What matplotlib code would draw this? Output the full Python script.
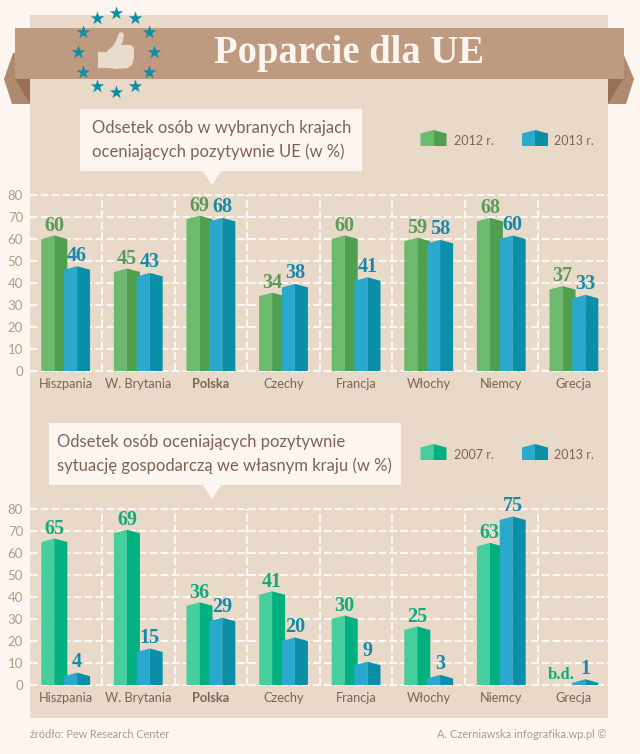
"""
Poparcie dla UE - infographic with two grouped bar charts.
"""
import numpy as np
import matplotlib
matplotlib.use("Agg")
import matplotlib.pyplot as plt
from matplotlib.patches import Polygon, Rectangle

plt.rcParams["font.family"] = ["Lato", "DejaVu Sans"]

countries = ["Hiszpania", "W. Brytania", "Polska", "Czechy", "Francja", "Włochy", "Niemcy", "Grecja"]
support_2012 = [60, 45, 69, 34, 60, 59, 68, 37]
support_2013 = [46, 43, 68, 38, 41, 58, 60, 33]
economy_2007 = [65, 69, 36, 41, 30, 25, 63, None]
economy_2013 = [4, 15, 29, 20, 9, 3, 75, 1]
y_ticks = [0, 10, 20, 30, 40, 50, 60, 70, 80]

BG = "#fdf5f0"
PANEL = "#e8d9c9"
RIBBON = "#bd9a80"
TAIL = "#ae8a70"
FOLD = "#996f58"
TEXT = "#7f6357"
TICK = "#b89b82"
STAR = "#0d8ea6"

GREEN = ("#6cba6e", "#4f9f50", "#5a9a5a")
BLUE = ("#2aa9cc", "#0b8fa9", "#1789a8")
TEAL = ("#45cf9f", "#00b07f", "#12ab7a")

W, H = 640, 754
SPACING = 72.6
BAR_W = 26 / SPACING
OFFSET = 11.4 / SPACING
GABLE = 1.6


def draw_bar(ax, x, value, colors):
    # left face, right face, both with a small gable on top
    left, right = x - BAR_W / 2, x + BAR_W / 2
    ax.fill([left, x, x, left], [0, 0, value + GABLE, value], color=colors[0], lw=0, zorder=3)
    ax.fill([x, right, right, x], [0, 0, value, value + GABLE], color=colors[1], lw=0, zorder=3)


def draw_chart(top_px, first, second, first_colors, second_colors):
    bottom_px = top_px + 176
    ax = fig.add_axes([30 / W, 1 - bottom_px / H, 578 / W, 176 / H], zorder=2)
    ax.patch.set_alpha(0)
    x = np.arange(len(countries))
    ax.set_xlim((30 - 65.7) / SPACING, (608 - 65.7) / SPACING)
    ax.set_ylim(0, 80)
    for s in ax.spines.values():
        s.set_visible(False)

    dash = dict(color="#fdf8f4", lw=1.4, linestyle=(0, (4, 1.6)), zorder=1, clip_on=False)
    for t in y_ticks:
        ax.axhline(t, **dash)
    for sep in x[:-1] + 0.5:
        ax.axvline(sep, **dash)

    for i in x:
        if first[i] is not None:
            draw_bar(ax, i - OFFSET, first[i], first_colors)
            ax.text(i - OFFSET, first[i] + 6.0, str(first[i]), ha="center", va="center",
                    family="Liberation Serif", weight="bold", fontsize=14.5, color=first_colors[2], zorder=4)
        else:
            ax.text(i - OFFSET - 0.02, 4.7, "b.d.", ha="center", va="center",
                    family="Liberation Serif", weight="bold", fontsize=12, color=first_colors[2], zorder=4)
        draw_bar(ax, i + OFFSET, second[i], second_colors)
        ax.text(i + OFFSET, second[i] + 6.4, str(second[i]), ha="center", va="center",
                family="Liberation Serif", weight="bold", fontsize=14.5, color=second_colors[2], zorder=4)

    ax.set_yticks(y_ticks)
    ax.set_xticks(x)
    ax.set_xticklabels(countries)
    ax.tick_params(axis="y", length=0, pad=5, labelsize=9.5, labelcolor=TICK)
    ax.tick_params(axis="x", length=0, pad=5, labelsize=9.2, labelcolor=TEXT)
    ax.get_xticklabels()[2].set_fontweight("bold")
    return ax


def legend_key(x, y, colors):
    mid = x + 13
    bg.add_patch(Polygon([(x, y + 16), (mid, y + 16), (mid, y), (x, y + 3.5)], color=colors[0], lw=0))
    bg.add_patch(Polygon([(mid, y + 16), (x + 26, y + 16), (x + 26, y + 3.5), (mid, y)], color=colors[1], lw=0))


def callout(x0, y0, x1, y1, tip_x, lines, text_x):
    bg.add_patch(Rectangle((x0, y0), x1 - x0, y1 - y0, color=BG, lw=0))
    bg.add_patch(Polygon([(tip_x - 9, y1), (tip_x + 9, y1), (tip_x, y1 + 14)], color=BG, lw=0))
    for k, line in enumerate(lines):
        bg.text(text_x, y0 + 19 + 23.5 * k, line, color=TEXT, fontsize=12.0, va="center", ha="left")


fig = plt.figure(figsize=(W / 100, H / 100), dpi=100, facecolor=BG)

# page furniture, drawn in pixel coordinates
bg = fig.add_axes([0, 0, 1, 1], zorder=0)
bg.set_xlim(0, W)
bg.set_ylim(H, 0)
bg.axis("off")

bg.add_patch(Rectangle((30, 15), 578, 703, color=PANEL, lw=0))
bg.add_patch(Polygon([(13, 53), (4, 79), (12, 104), (30, 104), (30, 53)], color=TAIL, lw=0))
bg.add_patch(Polygon([(15, 79), (30, 79), (30, 104)], color=FOLD, lw=0))
bg.add_patch(Polygon([(623, 53), (634, 79), (626, 104), (608, 104), (608, 53)], color=TAIL, lw=0))
bg.add_patch(Polygon([(608, 79), (623, 79), (608, 104)], color=FOLD, lw=0))
bg.add_patch(Rectangle((15, 28), 609, 51, color=RIBBON, lw=0))

bg.text(349, 53, "Poparcie dla UE", family="Liberation Serif", weight="bold", fontsize=27.8,
        color="#fdf5ee", ha="center", va="center")

# thumb up and the ring of stars
thumb = [(98, 52), (107, 52), (108, 50), (113, 46), (116, 41), (119, 33), (122, 32), (124, 35),
         (123, 41), (121, 45), (131, 45), (134, 48), (134, 58), (132, 65), (128, 68), (116, 69),
         (108, 68), (98, 68)]
bg.add_patch(Polygon(thumb, color="#eadccd", lw=0))
angles = np.deg2rad(np.arange(0, 360, 30))
bg.scatter(116 + 38 * np.cos(angles), 52 + 39.5 * np.sin(angles), marker="*", s=105, color=STAR,
           linewidths=0, zorder=3)

callout(80, 109, 362, 171, 212, ["Odsetek osób w wybranych krajach", "oceniających pozytywnie UE (w %)"], 92)
callout(49, 423, 401, 485, 212, ["Odsetek osób oceniających pozytywnie", "sytuację gospodarczą we własnym kraju (w %)"], 57)

legend_key(420.5, 130, GREEN)
legend_key(522, 130, BLUE)
bg.text(454, 141, "2012 r.", color=TEXT, fontsize=9, va="center")
bg.text(554, 141, "2013 r.", color=TEXT, fontsize=9, va="center")
legend_key(420.5, 444, TEAL)
legend_key(522, 444, BLUE)
bg.text(454, 455, "2007 r.", color=TEXT, fontsize=9, va="center")
bg.text(554, 455, "2013 r.", color=TEXT, fontsize=9, va="center")

bg.text(30, 735, "źródło: Pew Research Center", color="#b09a8a", fontsize=7.8, va="center")
bg.text(607, 735, "A. Czerniawska infografika.wp.pl ©", color="#b09a8a", fontsize=7.9, va="center", ha="right")

draw_chart(195, support_2012, support_2013, GREEN, BLUE)
draw_chart(509, economy_2007, economy_2013, TEAL, BLUE)

fig.savefig("out.png", dpi=100, facecolor=BG)
